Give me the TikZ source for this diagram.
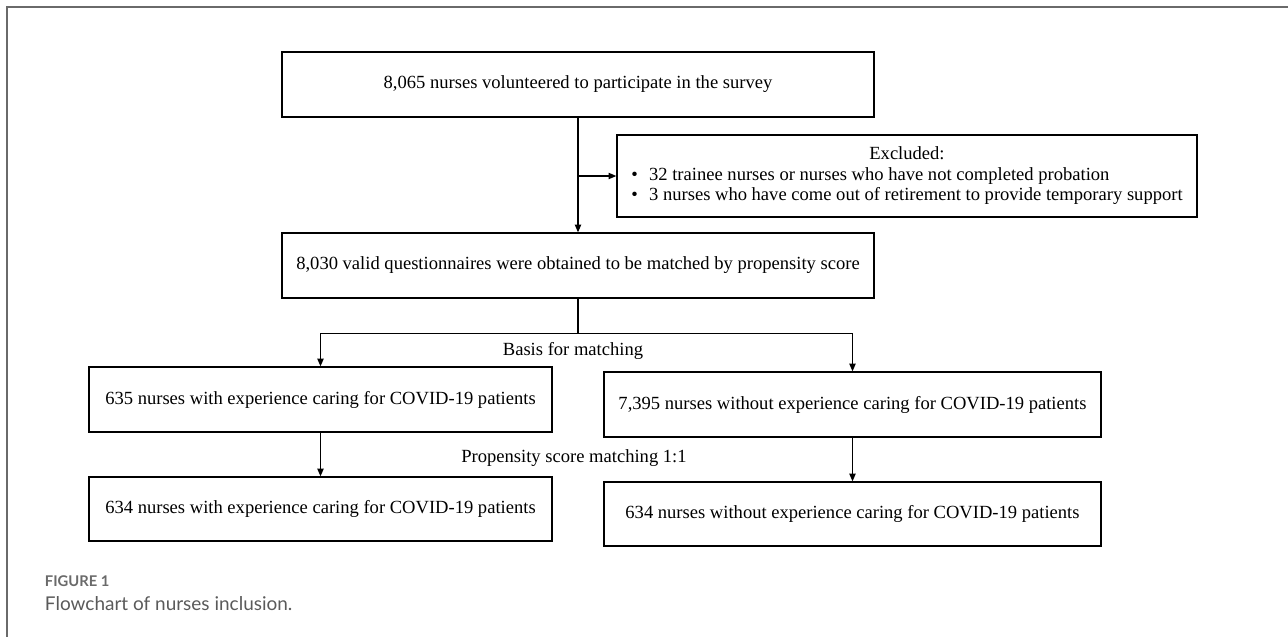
\documentclass[tikz,border=0pt]{standalone}
\usepackage{fontspec}
\setmainfont{Liberation Serif}
\newfontfamily\capfont{Lato}
\usetikzlibrary{arrows.meta}

\definecolor{framegray}{HTML}{6A6A6A}
\definecolor{capgray}{HTML}{5A5A5A}

\begin{document}
\begin{tikzpicture}[x=0.025cm, y=-0.025cm,
        flowbox/.style={draw, line width=0.9pt, inner sep=0pt, align=center, font=\fontsize{13.2}{16}\selectfont},
        flowlabel/.style={font=\fontsize{13.2}{16}\selectfont},
        flowarrow/.style={-{Triangle[length=5.5pt,width=4.5pt]}, line width=0.8pt}]
            % Fix the page size
            \useasboundingbox (0,0) rectangle (1288,637);

            % Draw the outer frame
            \draw[framegray, line width=1.3pt] (7,637) -- (7,7) -- (1288,7);

            % Draw the boxes
            \node[flowbox, minimum width=14.8cm, minimum height=1.625cm] (survey) at (578,84.5)
                {8,065 nurses volunteered to participate in the survey};
            \node[flowbox, minimum width=14.5cm, minimum height=2.05cm] (excl) at (907,176)
                {\renewcommand{\arraystretch}{0.92}%
                 \begin{tabular}{@{}l@{\hspace{8pt}}l@{}}
                 \multicolumn{2}{c}{Excluded:}\\
                 \textbullet & 32 trainee nurses or nurses who have not completed probation\\
                 \textbullet & 3 nurses who have come out of retirement to provide temporary support
                 \end{tabular}};
            \node[flowbox, minimum width=14.8cm, minimum height=1.625cm] (valid) at (578,265.5)
                {8,030 valid questionnaires were obtained to be matched by propensity score};
            \node[flowbox, minimum width=11.575cm, minimum height=1.625cm] (with1) at (320.5,399.5)
                {635 nurses with experience caring for COVID-19 patients};
            \node[flowbox, minimum width=12.425cm, minimum height=1.625cm] (without1) at (852.5,404.5)
                {7,395 nurses without experience caring for COVID-19 patients};
            \node[flowbox, minimum width=11.575cm, minimum height=1.6cm] (with2) at (320.5,509)
                {634 nurses with experience caring for COVID-19 patients};
            \node[flowbox, minimum width=12.425cm, minimum height=1.6cm] (without2) at (852.5,514)
                {634 nurses without experience caring for COVID-19 patients};

            % Labels between the rows
            \node[flowlabel] (basis) at (573,351) {Basis for matching};
            \node[flowlabel] (psm) at (574,458) {Propensity score matching 1:1};

            % Connect the boxes
            \draw[flowarrow] (survey.south) -- (valid.north);
            \draw[flowarrow] (survey.south |- excl.west) -- (excl.west);
            \draw[line width=0.8pt] (valid.south) -- ++(0,35) coordinate (split);
            \draw[flowarrow] (split) -| (with1.north);
            \draw[flowarrow] (split) -| (without1.north);
            \draw[flowarrow] (with1.south) -- (with2.north);
            \draw[flowarrow] (without1.south) -- (without2.north);

            % Add the caption
            \node[anchor=west, text=framegray, font=\capfont\bfseries\fontsize{10.5}{12}\selectfont] (figno) at (40,581) {FIGURE 1};
            \node[anchor=west, text=capgray, font=\capfont\fontsize{13.5}{16}\selectfont] (caption) at (40,604) {Flowchart of nurses inclusion.};
        \end{tikzpicture}
\end{document}
